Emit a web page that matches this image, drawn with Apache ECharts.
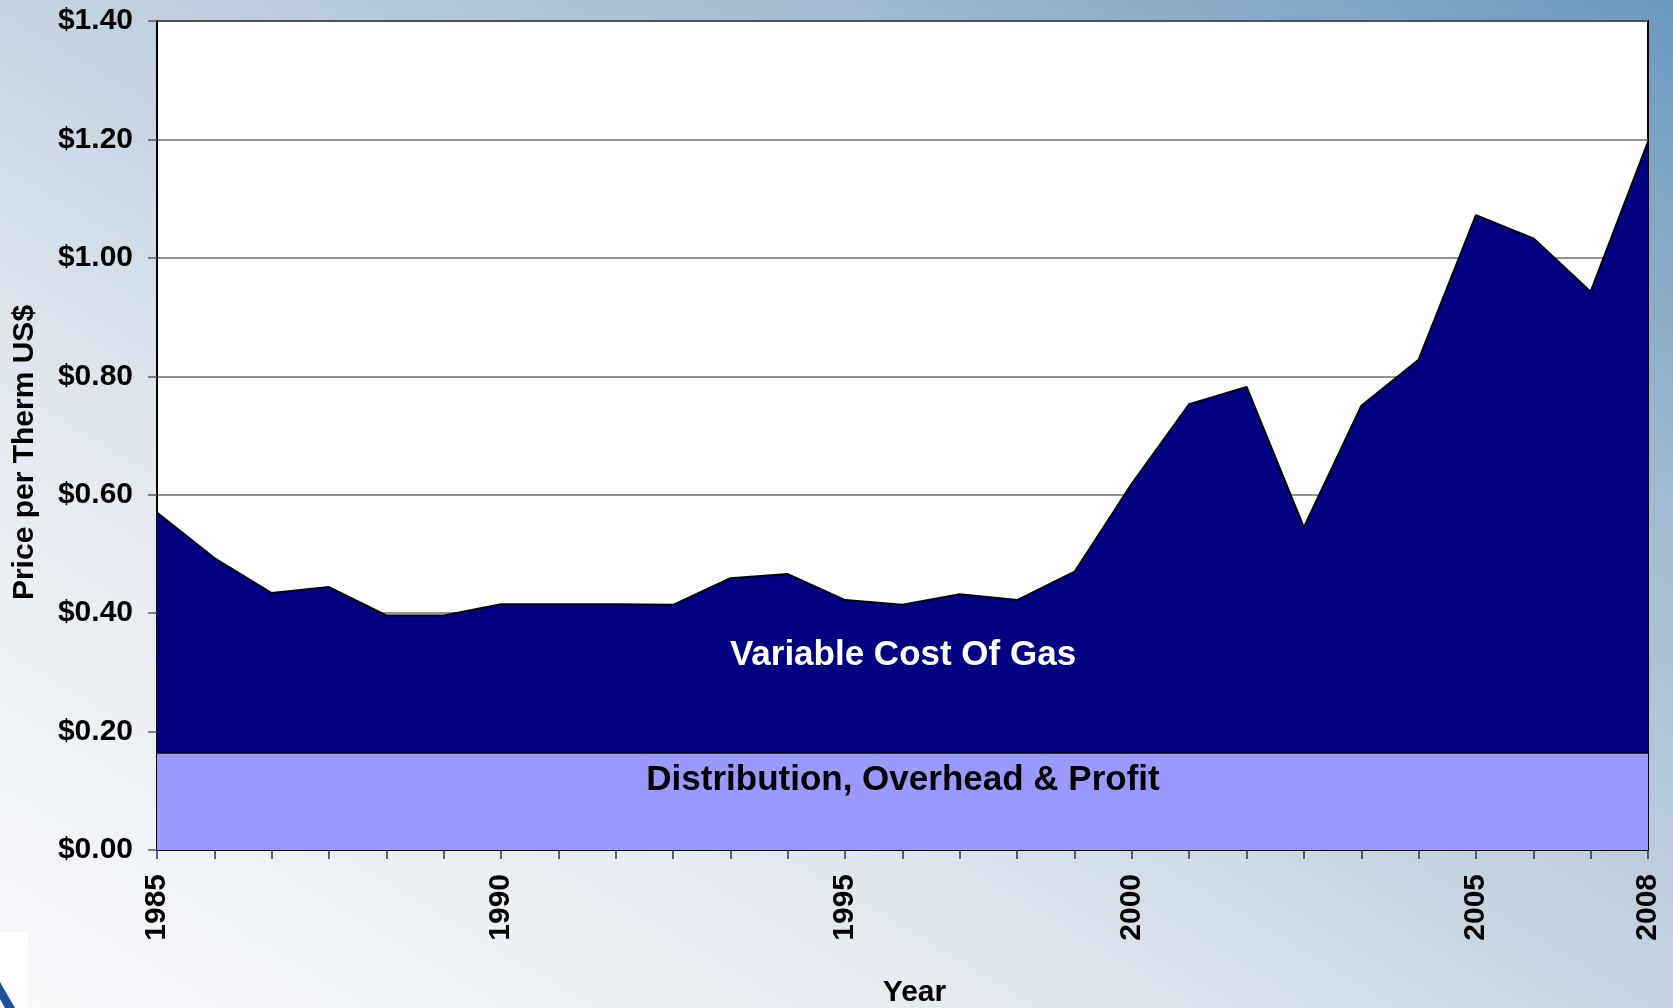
<!DOCTYPE html>
<html>
<head>
<meta charset="utf-8">
<script src="https://cdn.jsdelivr.net/npm/echarts@6/dist/echarts.min.js"></script>
<style>
    html, body { margin: 0; padding: 0; }
    #chart {
        width: 1673px; height: 1008px;
        background: linear-gradient(to top right, #f8f9fb 0%, #e6ebf1 28%, #c6d4e1 50%, #9fbad1 75%, #6a99be 100%);
    }
</style>
</head>
<body>
<div id="chart"></div>
<script>
// Gas price per therm, 1985-2008 (Excel style area chart)
const tickLabels = ["1985", "", "", "", "", "", "1990", "", "", "", "", "", "1995", "", "", "", "", "2000", "", "", "", "", "", "2005", "", "", "2008"];
const totalPrice = [0.570, 0.493, 0.434, 0.444, 0.396, 0.396, 0.415, 0.415, 0.415, 0.414, 0.459, 0.466, 0.422, 0.414, 0.432, 0.422, 0.470, 0.619, 0.753, 0.782, 0.545, 0.750, 0.828, 1.072, 1.033, 0.943, 1.196];
const distribution = [0.164, 0.164, 0.164, 0.164, 0.164, 0.164, 0.164, 0.164, 0.164, 0.164, 0.164, 0.164, 0.164, 0.164, 0.164, 0.164, 0.164, 0.164, 0.164, 0.164, 0.164, 0.164, 0.164, 0.164, 0.164, 0.164, 0.164];
const positions = tickLabels.map((_, i) => String(i));

const font = "'Liberation Sans', Arial, sans-serif";
const chart = echarts.init(document.getElementById("chart"), null, { renderer: "canvas" });

chart.setOption({
    animation: false,
    backgroundColor: "transparent",
    textStyle: { fontFamily: font },
    grid: {
        left: 157, right: 25, top: 21, bottom: 158,
        outerBoundsMode: "none", containLabel: false,
        show: true, backgroundColor: "#ffffff", borderColor: "#000000", borderWidth: 2
    },
    xAxis: {
        type: "category",
        data: positions,
        boundaryGap: false,
        name: "Year",
        nameLocation: "middle",
        nameGap: 128,
        nameTextStyle: { fontSize: 30, fontWeight: "bold", color: "#000", padding: [0, 0, 0, 24] },
        axisLine: { lineStyle: { color: "#000", width: 2 } },
        axisTick: { interval: 0, length: 9, lineStyle: { color: "#333", width: 1.5 } },
        axisLabel: {
            interval: 0, rotate: 90, margin: 24,
            fontSize: 30, fontWeight: "bold", color: "#000",
            formatter: (v, i) => tickLabels[i]
        },
        splitLine: { show: false }
    },
    yAxis: {
        type: "value",
        min: 0, max: 1.4, interval: 0.2,
        name: "Price per Therm US$",
        nameLocation: "middle",
        nameGap: 117,
        nameTextStyle: { fontSize: 30, fontWeight: "bold", color: "#000", padding: [0, 34, 0, 0] },
        axisLine: { show: true, lineStyle: { color: "#000", width: 2 } },
        axisTick: { show: true, length: 9, lineStyle: { color: "#555", width: 1.5 } },
        axisLabel: {
            margin: 24, fontSize: 30, fontWeight: "bold", color: "#000",
            formatter: v => "$" + v.toFixed(2)
        },
        splitLine: { lineStyle: { color: "#6e6e6e", width: 1.5 } }
    },
    series: [
        {
            name: "Variable Cost Of Gas",
            type: "line",
            data: totalPrice,
            symbol: "none",
            lineStyle: { color: "#000", width: 2 },
            areaStyle: { color: "#000080", opacity: 1 },
            z: 2
        },
        {
            name: "Distribution, Overhead & Profit",
            type: "line",
            data: distribution,
            symbol: "none",
            lineStyle: { color: "#000", width: 1.5 },
            areaStyle: { color: "#9999ff", opacity: 1 },
            z: 3
        }
    ],
    graphic: [
        {
            type: "text", x: 903, y: 655, z: 10,
            style: { text: "Variable Cost Of Gas", fill: "#ffffff", font: "bold 35px " + font, align: "center", verticalAlign: "middle" }
        },
        {
            type: "text", x: 903, y: 780, z: 10,
            style: { text: "Distribution, Overhead & Profit", fill: "#000000", font: "bold 35px " + font, align: "center", verticalAlign: "middle" }
        },
        // slide decoration, bottom-left corner
        { type: "rect", shape: { x: 0, y: 932, width: 28, height: 76 }, style: { fill: "#ffffff" } },
        { type: "polygon", shape: { points: [[0, 982], [15, 1008], [5, 1008], [0, 999]] }, style: { fill: "#1d4f9e" } }
    ]
});

window.addEventListener("resize", () => chart.resize());
</script>
</body>
</html>
